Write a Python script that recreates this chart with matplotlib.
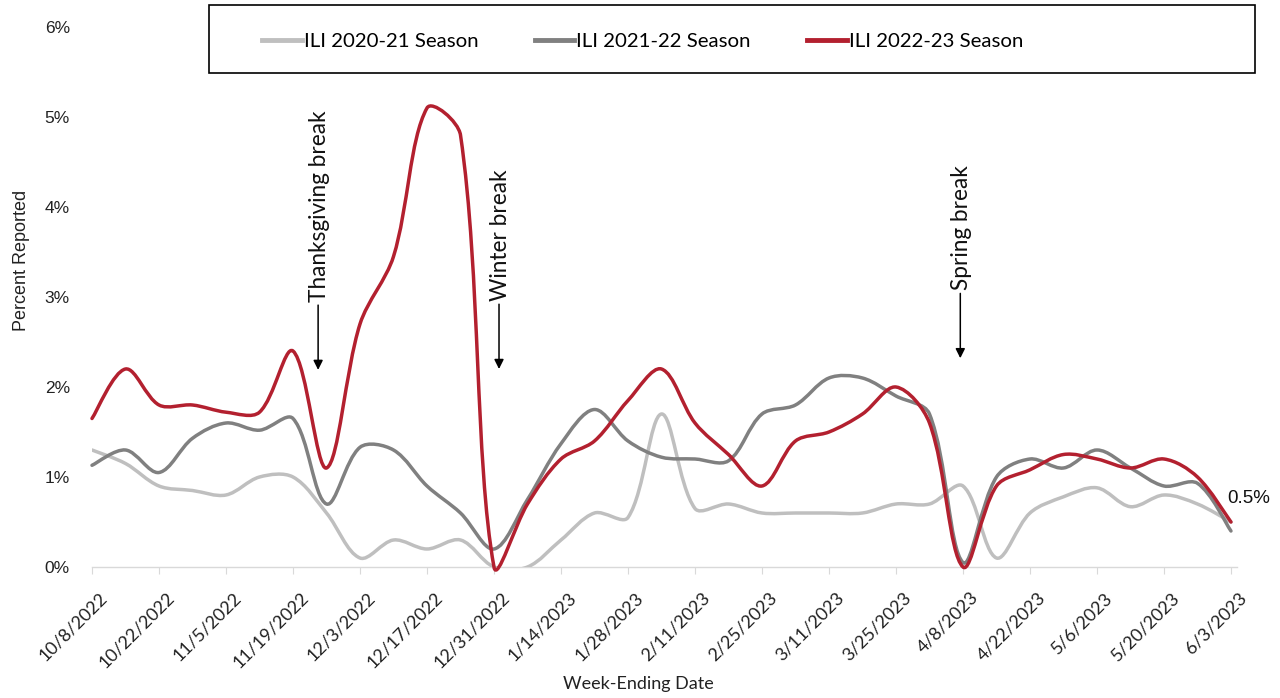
import matplotlib
matplotlib.use("Agg")
import matplotlib.pyplot as plt
from matplotlib.path import Path
from matplotlib.patches import PathPatch, Rectangle
from matplotlib.lines import Line2D
from matplotlib.transforms import ScaledTranslation

# weekly ILI values (% reported), week ending 10/8/2022 .. 6/3/2023
week_labels = [
    "10/8/2022", "10/15/2022", "10/22/2022", "10/29/2022", "11/5/2022", "11/12/2022",
    "11/19/2022", "11/26/2022", "12/3/2022", "12/10/2022", "12/17/2022", "12/24/2022",
    "12/31/2022", "1/7/2023", "1/14/2023", "1/21/2023", "1/28/2023", "2/4/2023",
    "2/11/2023", "2/18/2023", "2/25/2023", "3/4/2023", "3/11/2023", "3/18/2023",
    "3/25/2023", "4/1/2023", "4/8/2023", "4/15/2023", "4/22/2023", "4/29/2023",
    "5/6/2023", "5/13/2023", "5/20/2023", "5/27/2023", "6/3/2023",
]
ili_2020_21 = [1.30, 1.15, 0.90, 0.85, 0.80, 1.00, 1.00, 0.60, 0.10, 0.30, 0.20, 0.30,
               0.00, 0.00, 0.30, 0.60, 0.55, 1.70, 0.65, 0.70, 0.60, 0.60, 0.60, 0.60,
               0.70, 0.70, 0.90, 0.10, 0.60, 0.78, 0.88, 0.67, 0.80, 0.70, 0.50]
ili_2021_22 = [1.13, 1.30, 1.05, 1.43, 1.60, 1.52, 1.65, 0.70, 1.33, 1.30, 0.90, 0.60,
               0.20, 0.75, 1.37, 1.75, 1.40, 1.22, 1.20, 1.18, 1.70, 1.80, 2.10, 2.10,
               1.90, 1.70, 0.05, 1.00, 1.20, 1.10, 1.30, 1.10, 0.90, 0.93, 0.40]
ili_2022_23 = [1.65, 2.20, 1.80, 1.80, 1.72, 1.72, 2.40, 1.10, 2.70, 3.45, 5.10, 4.80,
               0.00, 0.70, 1.20, 1.40, 1.85, 2.20, 1.60, 1.25, 0.90, 1.40, 1.50, 1.70,
               2.00, 1.60, 0.00, 0.90, 1.08, 1.25, 1.20, 1.10, 1.20, 1.00, 0.50]

series = [
    ("ILI 2020-21 Season", ili_2020_21, "#BFBFBF"),
    ("ILI 2021-22 Season", ili_2021_22, "#808080"),
    ("ILI 2022-23 Season", ili_2022_23, "#B3202F"),
]

# (label, week position, arrow tip value)
breaks = [("Thanksgiving break", 6.8, 2.19),
          ("Winter break", 12.2, 2.2),
          ("Spring break", 25.97, 2.32)]


def smooth_path(ys, xunit=33.5, yunit=90.0):
    # Excel-like smoothed line: bezier through each point, tangents scaled by chord length
    xs = list(range(len(ys)))
    n = len(ys)

    def dist(i, j):
        return (((xs[j] - xs[i]) * xunit) ** 2 + ((ys[j] - ys[i]) * yunit) ** 2) ** 0.5

    verts = [(xs[0], ys[0])]
    codes = [Path.MOVETO]
    for i in range(n - 1):
        a = max(i - 1, 0)
        b = min(i + 2, n - 1)
        d01, d12, d23 = dist(a, i), dist(i, i + 1), dist(i + 1, b)
        f1 = d12 / (d01 + d12) / 3 if d01 > 0 else 1 / 6
        f2 = d12 / (d12 + d23) / 3 if d23 > 0 else 1 / 6
        c1 = (xs[i] + (xs[i + 1] - xs[a]) * f1, ys[i] + (ys[i + 1] - ys[a]) * f1)
        c2 = (xs[i + 1] - (xs[b] - xs[i]) * f2, ys[i + 1] - (ys[b] - ys[i]) * f2)
        verts += [c1, c2, (xs[i + 1], ys[i + 1])]
        codes += [Path.CURVE4] * 3
    return Path(verts, codes)


W, H = 1280, 698
fig = plt.figure(figsize=(W / 100, H / 100), dpi=100)
ax = fig.add_axes([92 / W, 1 - 567 / H, (1237 - 92) / W, (567 - 27) / H])

handles = []
for z, (name, vals, color) in enumerate(series):
    ax.add_patch(PathPatch(smooth_path(vals), fill=False, edgecolor=color,
                           lw=2.5, capstyle="round", joinstyle="round", zorder=2 + z,
                           clip_on=(z == 0)))
    handles.append(Line2D([], [], color=color, lw=3.5, label=name))

ax.set_xlim(0, 34.18)
ax.set_ylim(0, 6)

for s in ["top", "right", "left"]:
    ax.spines[s].set_visible(False)
ax.spines["bottom"].set_color("#D9D9D9")
ax.spines["bottom"].set_linewidth(1.0)
ax.spines["bottom"].set_zorder(1)

ax.set_yticks(range(7))
ax.set_yticklabels([f"{v}%" for v in range(7)], fontsize=12.5,
                   family="Liberation Sans", color="#222222")
ax.tick_params(axis="y", length=0, pad=16)

ax.set_xticks(range(0, len(week_labels), 2))
ax.set_xticklabels(week_labels[::2], rotation=45, ha="right", va="top",
                   rotation_mode="anchor", fontsize=13, family="Lato", color="#222222")
ax.tick_params(axis="x", length=5, color="#D9D9D9", pad=11)
for lbl in ax.get_xticklabels():
    lbl.set_transform(lbl.get_transform() + ScaledTranslation(0.07, 0, fig.dpi_scale_trans))

ax.set_xlabel("Week-Ending Date", family="Lato", fontsize=13, color="#222222")
ax.set_ylabel("Percent Reported", family="Liberation Sans", fontsize=13, color="#222222")
ax.xaxis.set_label_coords((638 - 92) / (1237 - 92), -(676 - 567) / (567 - 27))
ax.yaxis.set_label_coords(-(92 - 30) / (1237 - 92), (567 - 260) / (567 - 27))

for text, xpos, tip in breaks:
    ax.text(xpos, tip + 0.76, text, rotation=90, ha="center", va="bottom",
            family="Lato", fontsize=16.3, color="#111111")
    ax.annotate("", xy=(xpos - 0.05, tip), xytext=(xpos - 0.05, tip + 0.72),
                arrowprops=dict(arrowstyle="-|>", color="black", lw=1.1,
                                mutation_scale=14, shrinkA=0, shrinkB=0))

ax.text(33.9, ili_2022_23[-1] + 0.26, f"{ili_2022_23[-1]}%", ha="left", va="center",
        family="Liberation Sans", fontsize=13.5, color="#111111", clip_on=False)

# legend box
fig.patches.append(Rectangle((209 / W, 1 - 73 / H), (1255 - 209) / W, 68 / H,
                             transform=fig.transFigure, fill=False,
                             edgecolor="black", lw=1.2))
fig.legend(handles=handles, loc="center left", bbox_to_anchor=(262 / W, 1 - 41 / H),
           ncol=3, frameon=False, prop={"family": "Lato", "size": 14.7},
           handlelength=1.95, handletextpad=0.1, columnspacing=2.75,
           borderpad=0, borderaxespad=0)

fig.savefig("out.png", dpi=100)
